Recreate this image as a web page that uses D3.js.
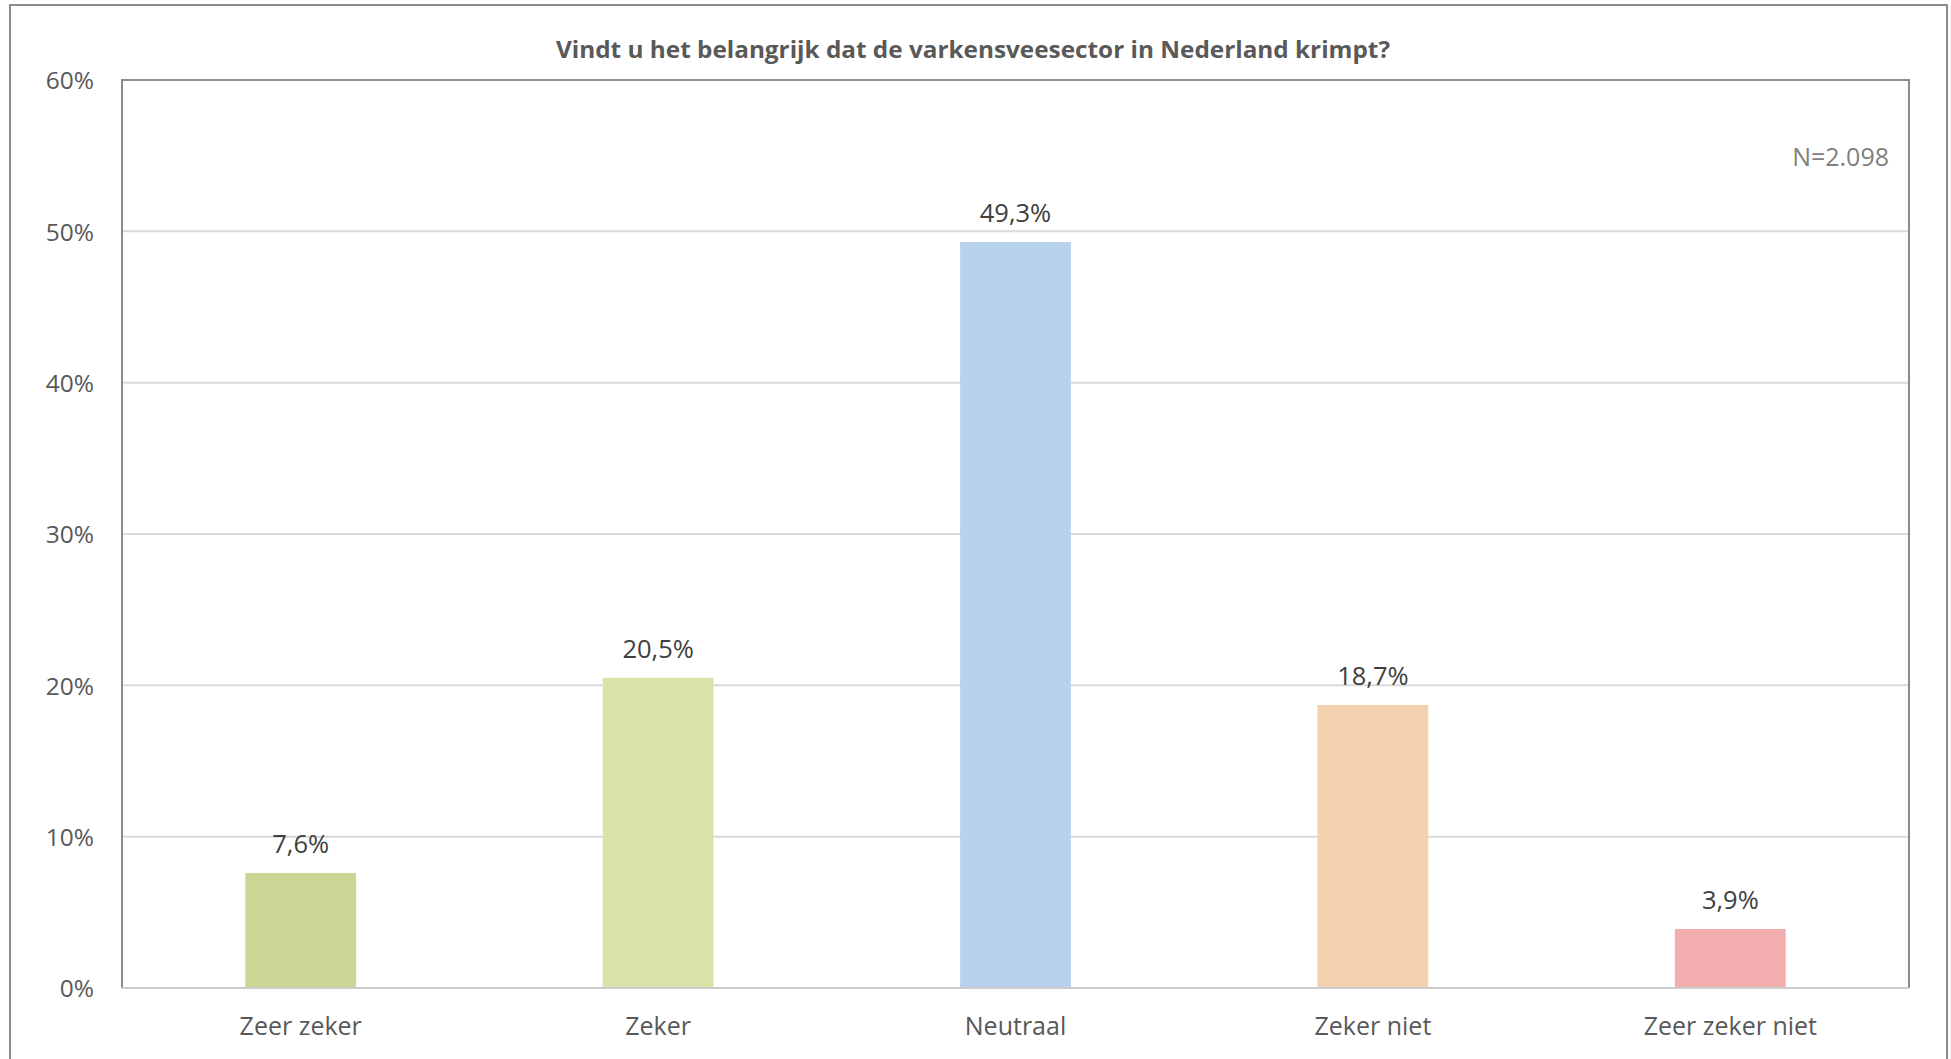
<!DOCTYPE html>
<html>
<head>
<meta charset="utf-8">
<script src="https://cdn.jsdelivr.net/npm/d3@7"></script>
<style>
  html, body { margin: 0; padding: 0; background: #ffffff; }
  svg { display: block; font-family: "Open Sans", sans-serif; }
</style>
</head>
<body>
<svg id="chart" width="1951" height="1059"></svg>
<script>
// ---- data ----
const title = "Vindt u het belangrijk dat de varkensveesector in Nederland krimpt?";
const categories = ["Zeer zeker", "Zeker", "Neutraal", "Zeker niet", "Zeer zeker niet"];
const values = [7.6, 20.5, 49.3, 18.7, 3.9];
const barColors = ["#cad596", "#d9e4a9", "#b9d2eb", "#f2d0b0", "#f2aeae"];
const yTicks = [0, 10, 20, 30, 40, 50, 60];
const yTickLabels = ["0%", "10%", "20%", "30%", "40%", "50%", "60%"];
const note = "N=2.098";

// ---- layout ----
const svg = d3.select("#chart");
const W = 1951, H = 1059;
const plot = { left: 122, top: 80, right: 1909, bottom: 988 };

const x = d3.scaleBand()
  .domain(categories)
  .range([plot.left, plot.right])
  .paddingInner(0.69)
  .paddingOuter(0.345);

const y = d3.scaleLinear()
  .domain([0, 60])
  .range([plot.bottom, plot.top]);

const nlFormat = d3.formatLocale({ decimal: ",", thousands: ".", grouping: [3], currency: ["€", ""] }).format(".1f");

// outer chart border
svg.append("rect")
  .attr("x", 10).attr("y", 5)
  .attr("width", 1937).attr("height", H + 20)
  .attr("fill", "none")
  .attr("stroke", "#8c8c8c")
  .attr("stroke-width", 2);

// gridlines
svg.append("g")
  .selectAll("line")
  .data(yTicks.filter(d => d > 0 && d < 60))
  .join("line")
  .attr("x1", plot.left).attr("x2", plot.right)
  .attr("y1", d => y(d)).attr("y2", d => y(d))
  .attr("stroke", "#d9d9d9")
  .attr("stroke-width", 2);

// bars
svg.append("g")
  .selectAll("rect")
  .data(values)
  .join("rect")
  .attr("x", (d, i) => x(categories[i]))
  .attr("y", d => y(d))
  .attr("width", x.bandwidth())
  .attr("height", d => y(0) - y(d))
  .attr("fill", (d, i) => barColors[i]);

// plot border (left, top, right)
svg.append("path")
  .attr("d", `M${plot.left},${plot.bottom} V${plot.top} H${plot.right} V${plot.bottom}`)
  .attr("fill", "none")
  .attr("stroke", "#8c8c8c")
  .attr("stroke-width", 2);

// bottom axis line
svg.append("line")
  .attr("x1", plot.left).attr("x2", plot.right)
  .attr("y1", plot.bottom).attr("y2", plot.bottom)
  .attr("stroke", "#cccccc")
  .attr("stroke-width", 2);

// y axis labels
const yAxis = d3.axisLeft(y)
  .tickValues(yTicks)
  .tickFormat((d, i) => yTickLabels[i])
  .tickSize(0)
  .tickPadding(28);
const gy = svg.append("g").attr("transform", `translate(${plot.left},0)`).call(yAxis);
gy.select(".domain").remove();
gy.selectAll("text")
  .attr("font-family", "Open Sans")
  .attr("font-size", 24.5)
  .attr("fill", "#595959")
  .attr("dy", "0.36em");

// x axis labels
const xAxis = d3.axisBottom(x).tickSize(0).tickPadding(0);
const gx = svg.append("g").attr("transform", `translate(0,${plot.bottom})`).call(xAxis);
gx.select(".domain").remove();
gx.selectAll("text")
  .attr("font-family", "Open Sans")
  .attr("font-size", 25)
  .attr("fill", "#595959")
  .attr("y", 47)
  .attr("dy", 0);

// data labels
svg.append("g")
  .selectAll("text")
  .data(values)
  .join("text")
  .attr("x", (d, i) => x(categories[i]) + x.bandwidth() / 2)
  .attr("y", d => y(d) - 20)
  .attr("text-anchor", "middle")
  .attr("font-size", 25.5)
  .attr("fill", "#404040")
  .text(d => nlFormat(d) + "%");

// title
svg.append("text")
  .attr("x", 973)
  .attr("y", 58)
  .attr("text-anchor", "middle")
  .attr("font-size", 24)
  .attr("font-weight", "bold")
  .attr("fill", "#595959")
  .attr("textLength", 834)
  .attr("lengthAdjust", "spacingAndGlyphs")
  .text(title);

// N note
svg.append("text")
  .attr("x", 1889)
  .attr("y", 166)
  .attr("text-anchor", "end")
  .attr("font-size", 25)
  .attr("fill", "#808080")
  .text(note);
</script>
</body>
</html>
